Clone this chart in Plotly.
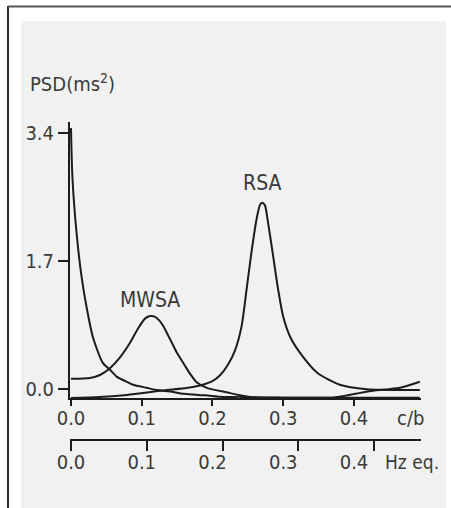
import plotly.graph_objects as go

# ---- data ----
# x in c/b, y in PSD (ms^2)
vlf_x = [0.000, 0.002, 0.008, 0.015, 0.022, 0.031, 0.045, 0.055, 0.065, 0.079, 0.088,
         0.107, 0.122, 0.140, 0.160, 0.190, 0.215, 0.240, 0.280, 0.330, 0.370, 0.404,
         0.427, 0.465, 0.493]
vlf_y = [3.46, 2.81, 2.06, 1.49, 1.09, 0.69, 0.35, 0.26, 0.165, 0.10, 0.06,
         0.02, -0.01, -0.03, -0.06, -0.08, -0.10, -0.10, -0.11, -0.11, -0.11, -0.055,
         -0.02, 0.02, 0.10]

mwsa_x = [0.000, 0.027, 0.041, 0.055, 0.069, 0.083, 0.095, 0.105, 0.112, 0.119, 0.125,
          0.131, 0.137, 0.144, 0.150, 0.160, 0.168, 0.178, 0.192, 0.220, 0.253, 0.300,
          0.350, 0.420, 0.493]
mwsa_y = [0.14, 0.15, 0.19, 0.28, 0.42, 0.61, 0.81, 0.94, 0.97, 0.96, 0.91,
          0.83, 0.72, 0.59, 0.48, 0.33, 0.21, 0.09, 0.02, -0.04, -0.10, -0.11,
          -0.11, -0.11, -0.11]

rsa_x = [0.000, 0.040, 0.079, 0.126, 0.172, 0.200, 0.211, 0.222, 0.232, 0.241, 0.248,
         0.255, 0.262, 0.267, 0.270, 0.274, 0.278, 0.285, 0.293, 0.300, 0.310, 0.324,
         0.348, 0.380, 0.418, 0.465, 0.493]
rsa_y = [-0.115, -0.10, -0.075, -0.02, 0.03, 0.11, 0.19, 0.33, 0.52, 0.83, 1.31,
         1.81, 2.24, 2.44, 2.47, 2.44, 2.24, 1.81, 1.31, 0.96, 0.69, 0.48,
         0.22, 0.06, 0.00, -0.01, -0.01]

y_ticks = [0.0, 1.7, 3.4]
y_ticktext = ["0.0", "1.7", "3.4"]
cb_ticks = [0.0, 0.1, 0.2, 0.3, 0.4]
cb_ticktext = ["0.0", "0.1", "0.2", "0.3", "0.4"]
hz_ticks = [0.0, 0.1, 0.2, 0.3, 0.4]
hz_ticktext = ["0.0", "0.1", "0.2", "0.3", "0.4"]

# ---- style ----
FONT = "Liberation Sans Narrow, DejaVu Sans Condensed, Arial Narrow, sans-serif"
TXT = "#3a3a3a"
INK = "#1c1c1c"
PANEL = "#f1f1f1"

fig = go.Figure()
for xs, ys in [(vlf_x, vlf_y), (mwsa_x, mwsa_y), (rsa_x, rsa_y)]:
    fig.add_trace(go.Scatter(x=xs, y=ys, mode="lines", xaxis="x", yaxis="y",
                             line=dict(color=INK, width=2, shape="spline", smoothing=0.7),
                             hoverinfo="skip", showlegend=False, cliponaxis=False))
# empty traces to register the lower (Hz eq.) axis subplots
fig.add_trace(go.Scatter(x=[None], y=[None], xaxis="x2", yaxis="y2", showlegend=False,
                         hoverinfo="skip"))
fig.add_trace(go.Scatter(x=[None], y=[None], xaxis="x3", yaxis="y2", showlegend=False,
                         hoverinfo="skip"))

mi = mwsa_y.index(max(mwsa_y))
ri = rsa_y.index(max(rsa_y))

fig.update_layout(
    width=451, height=508,
    margin=dict(l=70, r=30, t=122, b=69),
    paper_bgcolor="white",
    plot_bgcolor="rgba(0,0,0,0)",
    font=dict(family=FONT, size=20, color=TXT),
    showlegend=False,
    xaxis=dict(domain=[0, 1], anchor="y", range=[-0.0014, 0.4947],
               showline=True, linecolor=INK, linewidth=2, showgrid=False, zeroline=False,
               ticks="outside", ticklen=6, tickwidth=2, tickcolor=INK,
               ticklabelstandoff=-5,
               tickvals=cb_ticks, ticktext=cb_ticktext,
               tickfont=dict(family=FONT, size=20, color=TXT)),
    yaxis=dict(domain=[0.1293, 1], anchor="x", range=[-0.115, 3.541],
               showline=True, linecolor=INK, linewidth=2, showgrid=False, zeroline=False,
               ticks="outside", ticklen=10, tickwidth=2, tickcolor=INK,
               tickvals=y_ticks, ticktext=y_ticktext,
               tickfont=dict(family=FONT, size=20, color=TXT)),
    yaxis2=dict(domain=[0, 0.002], anchor="x2", visible=False, range=[0, 1]),
    xaxis2=dict(anchor="y2", range=[-0.0013, 0.4620],
                showline=True, linecolor=INK, linewidth=2, showgrid=False, zeroline=False,
                ticks="outside", ticklen=10, tickwidth=2, tickcolor=INK,
                tickvals=hz_ticks, showticklabels=False),
    xaxis3=dict(anchor="y2", overlaying="x2", range=[-0.0014, 0.4947],
                showline=False, showgrid=False, zeroline=False,
                ticks="outside", ticklen=5, tickcolor="rgba(0,0,0,0)",
                tickvals=hz_ticks, ticktext=hz_ticktext,
                tickfont=dict(family=FONT, size=20, color=TXT)),
    shapes=[
        dict(type="rect", xref="paper", yref="paper", layer="below",
             x0=(21 - 70) / 351, x1=(446 - 70) / 351, y0=(439 - 510) / 317, y1=(439 - 21) / 317,
             fillcolor=PANEL, line=dict(width=0)),
        dict(type="line", xref="paper", yref="paper", layer="above",
             x0=(8 - 70) / 351, x1=(8 - 70) / 351, y0=(439 - 510) / 317, y1=(439 - 6) / 317,
             line=dict(color="#2a2a2a", width=2)),
        dict(type="line", xref="paper", yref="paper", layer="above",
             x0=(8 - 70) / 351, x1=(452 - 70) / 351, y0=(439 - 6.5) / 317, y1=(439 - 6.5) / 317,
             line=dict(color="#555555", width=2)),
    ],
    annotations=[
        dict(text="PSD(ms<sup>2</sup>)", xref="paper", yref="paper",
             x=(28 - 70) / 351, y=(439 - 83) / 317, xanchor="left", yanchor="middle",
             showarrow=False, font=dict(family=FONT, size=20, color=TXT)),
        dict(text="MWSA", xref="x", yref="y", x=mwsa_x[mi], y=mwsa_y[mi],
             xanchor="center", yanchor="bottom", yshift=2, showarrow=False,
             font=dict(family=FONT, size=21, color=TXT)),
        dict(text="RSA", xref="x", yref="y", x=rsa_x[ri], y=rsa_y[ri],
             xanchor="center", yanchor="bottom", yshift=6, showarrow=False,
             font=dict(family=FONT, size=21, color=TXT)),
        dict(text="c/b", xref="paper", yref="paper", x=(410 - 70) / 351, y=(439 - 418) / 317,
             xanchor="center", yanchor="middle", showarrow=False,
             font=dict(family=FONT, size=20, color=TXT)),
        dict(text="Hz eq.", xref="paper", yref="paper", x=(441 - 70) / 351, y=(439 - 462) / 317,
             xanchor="right", yanchor="middle", showarrow=False,
             font=dict(family=FONT, size=19, color=TXT)),
    ],
)

fig.write_html(
    "out.html",
    config={"displayModeBar": False},
    post_script=("document.documentElement.style.overflow='hidden';"
                 "document.body.style.margin='0';document.body.style.overflow='hidden';"),
)
